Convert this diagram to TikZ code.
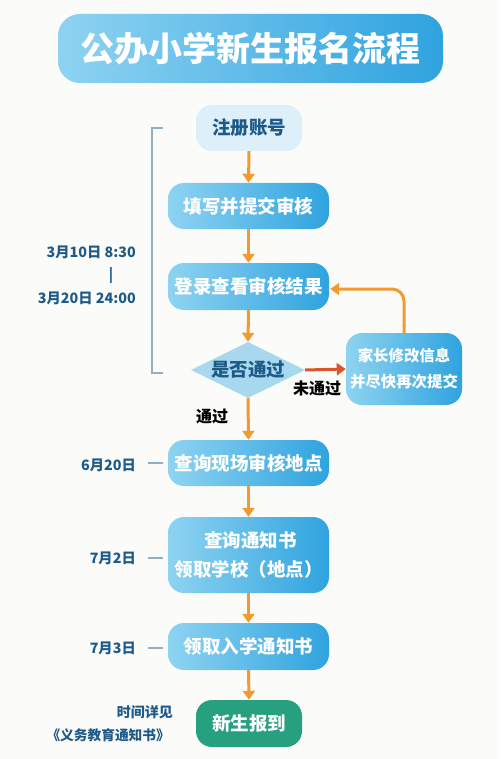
\documentclass[tikz,border=0pt]{standalone}
\usepackage{fontspec}
\setmainfont{Noto Sans CJK SC}
\usetikzlibrary{shapes.geometric,arrows.meta}
\definecolor{bgc}{HTML}{FBFBF9}
\definecolor{bluel}{HTML}{8ED3F1}
\definecolor{blued}{HTML}{2FA3DF}
\definecolor{pale}{HTML}{DDF0FA}
\definecolor{dtxt}{HTML}{1E5A88}
\definecolor{dia}{HTML}{A7D8EE}
\definecolor{orng}{HTML}{F29A2E}
\definecolor{redarr}{HTML}{D9552A}
\definecolor{grn}{HTML}{27A080}
\definecolor{brk}{HTML}{8FAFC6}
\tikzset{
  x=1pt, y=-1pt,
  boxs/.style={rounded corners=16pt, left color=bluel, right color=blued, text=white, font=\bfseries\fontsize{18.5}{22}\selectfont, align=center, inner sep=0pt},
  flow/.style={draw=orng, line width=3pt, -{Triangle[length=9pt,width=12pt]}},
  datel/.style={text=dtxt, font=\bfseries\fontsize{14.3}{17}\selectfont, anchor=east, inner sep=0pt},
  tick/.style={draw=brk, line width=1.5pt},
  lbl/.style={text=black, font=\bfseries\fontsize{16}{19}\selectfont, inner sep=0pt}
}
\begin{document}
\begin{tikzpicture}
\fill[bgc] (0,0) rectangle (500,759);
\useasboundingbox (0,0) rectangle (500,759);
% title
\node[rounded corners=22pt, left color=bluel, right color=blued, minimum width=385pt, minimum height=69pt, inner sep=0pt] (title) at (250.5,48.5) {};
\node[text=white, font=\bfseries\fontsize{34}{40}\selectfont] (tt) at (title.center) {公办小学新生报名流程};
% nodes
\node[rounded corners=16pt, fill=pale, text=dtxt, font=\bfseries\fontsize{18.5}{22}\selectfont, minimum width=106pt, minimum height=46pt, inner sep=0pt] (a) at (249,128) {注册账号};
\node[boxs, minimum width=161pt, minimum height=46pt] (b) at (248.5,206) {填写并提交审核};
\node[boxs, minimum width=161pt, minimum height=47pt] (c) at (248.5,286.5) {登录查看审核结果};
\node[diamond, fill=dia, text=dtxt, font=\bfseries\fontsize{18.5}{22}\selectfont, minimum width=114pt, minimum height=56pt, inner sep=0pt, aspect=2] (d) at (248,370) {是否通过};
\node[boxs, minimum width=116pt, minimum height=72pt, font=\bfseries\fontsize{15.4}{26}\selectfont] (e) at (404,369) {家长修改信息\\并尽快再次提交};
\node[boxs, minimum width=161pt, minimum height=46pt] (f) at (248.5,463) {查询现场审核地点};
\node[boxs, minimum width=161pt, minimum height=76pt, font=\bfseries\fontsize{18.5}{29}\selectfont] (g) at (248.5,555) {\ 查询通知书\\领取学校（地点）};
\node[boxs, minimum width=161pt, minimum height=47pt] (h) at (248.5,646.5) {领取入学通知书};
\node[rounded corners=16pt, fill=grn, text=white, font=\bfseries\fontsize{18.5}{22}\selectfont, minimum width=106pt, minimum height=47pt, inner sep=0pt] (i) at (249,723.5) {新生报到};
% arrows
\draw[flow] (a.south) -- (b.north);
\draw[flow] (b.south) -- (c.north);
\draw[flow] (c.south) -- (d.north);
\draw[flow] (d.south) -- (f.north);
\draw[flow] (f.south) -- (g.north);
\draw[flow] (g.south) -- (h.north);
\draw[flow] (h.south) -- (i.north);
\draw[draw=redarr, line width=3pt, -{Triangle[length=9pt,width=12pt]}] (d.east) -- (e.west);
\draw[draw=orng, line width=3pt, rounded corners=12pt, -{Triangle[length=9pt,width=12pt]}] (e.north) |- (c.east |- 0,289) -- ([xshift=1pt]c.east |- 0,289);
% labels
\node[lbl] (l1) at (212,417) {通过};
\node[lbl] (l2) at (317,388) {未通过};
% bracket
\coordinate (bt) at (163,128);
\coordinate (bb) at (163,373);
\draw[tick] (bt) -- (152,128) -- (152,373) -- (bb);
\node[datel] (d1) at (136,252) {3月10日 8:30};
\node[text=dtxt, font=\bfseries\fontsize{14}{16}\selectfont, inner sep=0pt] (d1b) at (111,275) {|};
\node[datel] (d2) at (136,298) {3月20日 24:00};
\node[datel] (d3) at (136,465) {6月20日};
\node[datel] (d4) at (136,558) {7月2日};
\node[datel] (d5) at (136,648) {7月3日};
\coordinate (t3) at (148,463); \draw[tick] (t3) -- (163,463);
\coordinate (t4) at (148,558); \draw[tick] (t4) -- (163,558);
\coordinate (t5) at (148,648); \draw[tick] (t5) -- (163,648);
\node[datel, font=\bfseries\fontsize{14}{16}\selectfont] (n1) at (173,712) {时间详见};
\node[datel, font=\bfseries\fontsize{13.7}{16}\selectfont] (n2) at (170,735) {《义务教育通知书》};
\end{tikzpicture}
\end{document}
